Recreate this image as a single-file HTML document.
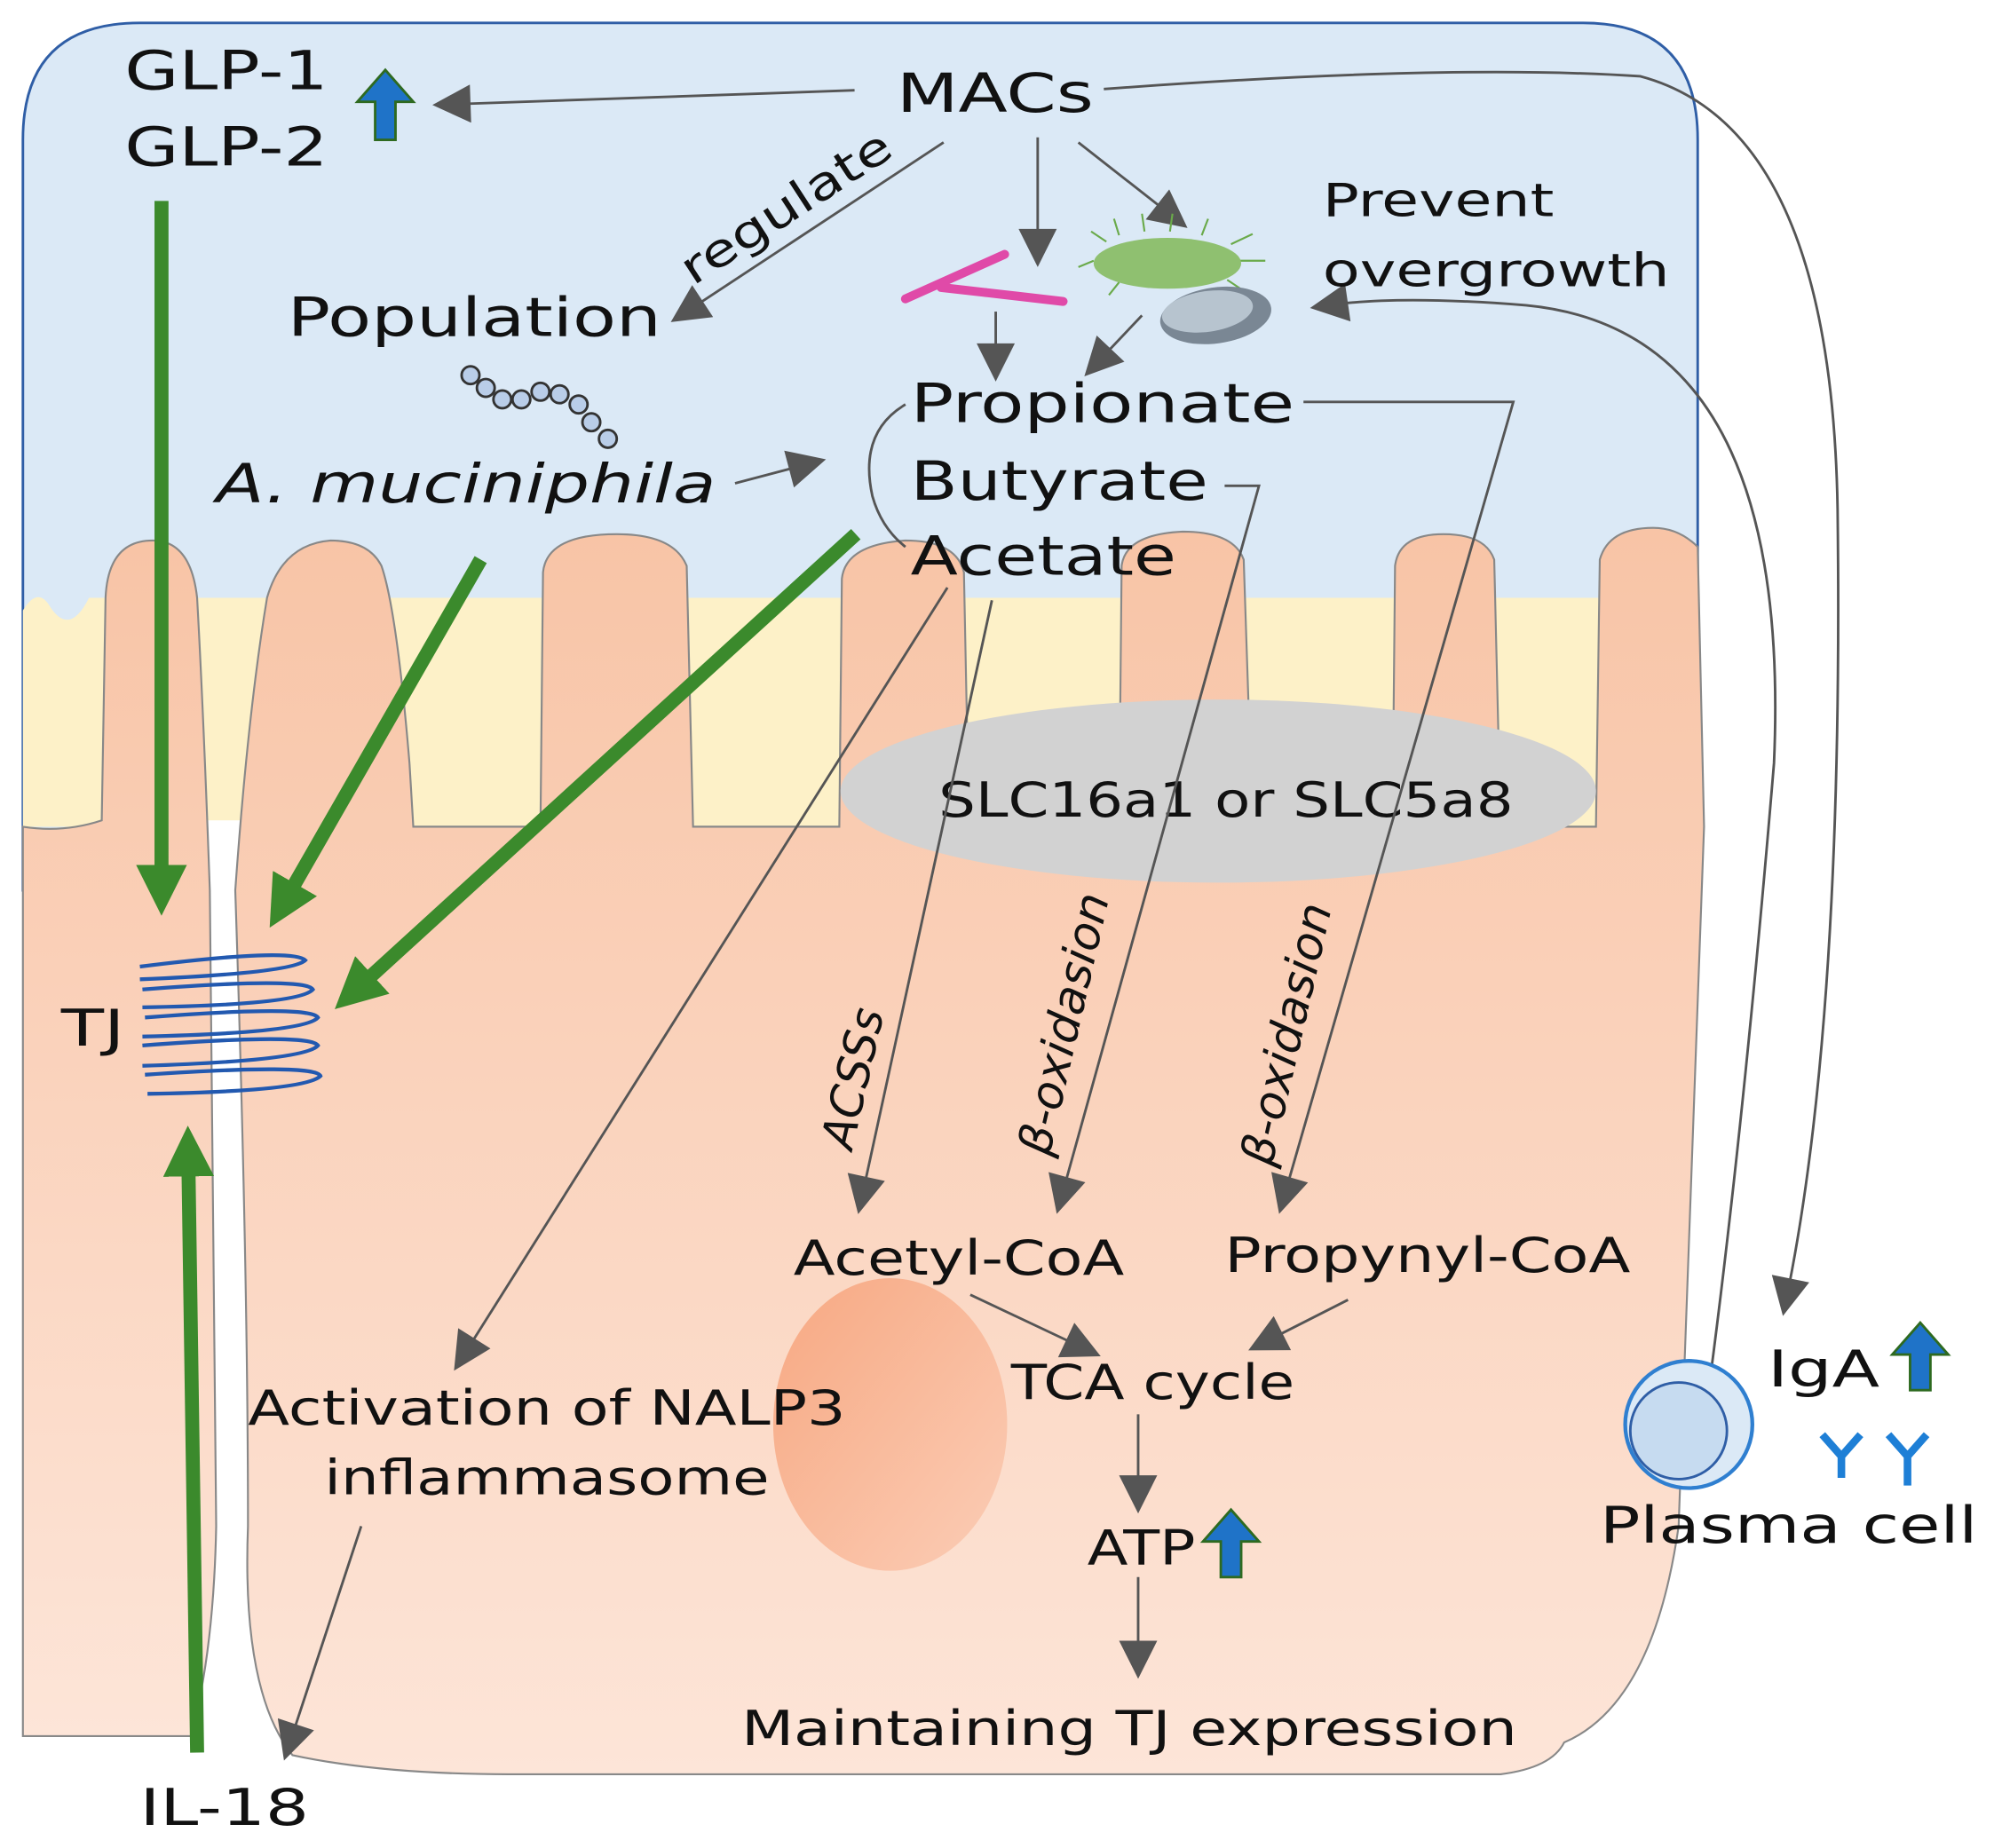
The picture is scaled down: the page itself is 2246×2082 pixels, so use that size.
<!DOCTYPE html>
<html><head><meta charset="utf-8"><style>
html,body{margin:0;padding:0;background:#fff}
svg{display:block}
text{font-family:"DejaVu Sans","Liberation Sans",sans-serif;fill:#111}
</style></head><body>
<svg width="2246" height="2082" viewBox="0 0 1568 1453" preserveAspectRatio="none" xmlns="http://www.w3.org/2000/svg">
<defs>
<marker id="g" viewBox="0 0 10 10" refX="5" refY="5" markerWidth="34" markerHeight="30" orient="auto" markerUnits="userSpaceOnUse">
<path d="M0,0 L10,5 L0,10 z" fill="#555"/></marker>
<marker id="gr" viewBox="0 0 10 10" refX="5" refY="5" markerWidth="40" markerHeight="40" orient="auto" markerUnits="userSpaceOnUse">
<path d="M0,0 L10,5 L0,10 z" fill="#3b8a2c"/></marker>
<linearGradient id="cell" x1="0" y1="0" x2="0" y2="1">
<stop offset="0" stop-color="#f8c4a6"/><stop offset="1" stop-color="#fde5d8"/></linearGradient>
<linearGradient id="mito" x1="0" y1="0" x2="1" y2="1">
<stop offset="0" stop-color="#f7a882"/><stop offset="1" stop-color="#fbcdb6"/></linearGradient>
</defs>
<path d="M18,700 L18,110 Q18,18 110,18 L1245,18 Q1335,18 1335,110 L1335,700 Z" fill="#dbe9f6" stroke="#2f5ea6" stroke-width="2"/>
<path d="M18,650 L18,480 Q30,460 40,478 Q55,500 70,470 L1330,470 L1338,650 Z" fill="#fdf1c8"/>
<rect x="160" y="645" width="30" height="60" fill="#fff"/>
<g fill="url(#cell)" stroke="#888" stroke-width="1.5">
<path d="M18,650 L18,1365 L150,1365 Q168,1300 170,1200 Q168,900 165,700 Q160,560 155,470 Q150,425 120,425 Q85,425 83,470 L80,645 Q50,655 18,650 Z"/>
<path d="M185,700 Q195,1000 195,1200 Q190,1330 230,1380 Q300,1395 400,1395 L1180,1395 Q1220,1390 1230,1370 Q1300,1340 1320,1200 L1340,650 L1335,430 Q1320,415 1300,415 Q1265,415 1258,440 L1255,650 L1180,650 L1175,440 Q1168,420 1135,420 Q1100,420 1097,445 L1095,650 L985,650 L978,440 Q970,418 930,418 Q885,420 882,445 L880,650 L762,650 L758,450 Q752,425 712,425 Q665,428 662,455 L660,650 L545,650 L540,445 Q530,420 485,420 Q430,420 427,450 L425,650 L325,650 L322,600 Q312,480 300,445 Q290,425 260,425 Q222,428 210,470 Q195,560 185,700 Z"/>
</g>
<ellipse cx="958" cy="622" rx="297" ry="72" fill="#d2d2d2"/>
<text x="738" y="642" font-size="38" textLength="452" lengthAdjust="spacingAndGlyphs">SLC16a1 or SLC5a8</text>
<ellipse cx="700" cy="1120" rx="92" ry="115" fill="url(#mito)"/>
<g fill="none" stroke="#2259b0" stroke-width="3">
<path d="M110,760 Q230,745 240,755 Q230,765 110,770 M112,778 Q240,768 246,778 Q236,790 112,792 M114,800 Q244,790 250,800 Q240,812 112,815 M112,822 Q244,812 250,822 Q240,834 112,838 M114,845 Q248,836 252,846 Q240,858 116,860"/>
</g>
<text x="48" y="822" font-size="40" textLength="50" lengthAdjust="spacingAndGlyphs">TJ</text>
<g stroke="#3b8a2c" stroke-width="11" fill="none">
<line x1="127" y1="158" x2="127" y2="700" marker-end="url(#gr)"/>
<line x1="378" y1="440" x2="222" y2="712" marker-end="url(#gr)"/>
<line x1="673" y1="420" x2="278" y2="780" marker-end="url(#gr)"/>
<line x1="155" y1="1378" x2="148" y2="905" marker-end="url(#gr)"/>
</g>
<g stroke="#555" stroke-width="2" fill="none">
<line x1="672" y1="71" x2="355" y2="82" marker-end="url(#g)"/>
<path d="M868,70 Q1140,50 1290,60 Q1440,100 1445,400 Q1450,800 1405,1020" marker-end="url(#g)"/>
<line x1="742" y1="112" x2="540" y2="245" marker-end="url(#g)"/>
<line x1="816" y1="108" x2="816" y2="195" marker-end="url(#g)"/>
<line x1="848" y1="112" x2="922" y2="170" marker-end="url(#g)"/>
<line x1="783" y1="245" x2="783" y2="285" marker-end="url(#g)"/>
<line x1="898" y1="248" x2="863" y2="285" marker-end="url(#g)"/>
<path d="M1340,1120 Q1370,900 1395,600 Q1410,260 1200,240 Q1100,232 1045,240" marker-end="url(#g)"/>
<line x1="578" y1="380" x2="635" y2="365" marker-end="url(#g)"/>
<path d="M712,318 Q675,340 686,390 Q693,415 712,430"/>
<path d="M1025,316 L1190,316 L1010,940" marker-end="url(#g)"/>
<path d="M963,382 L990,382 L835,940" marker-end="url(#g)"/>
<line x1="780" y1="472" x2="678" y2="940" marker-end="url(#g)"/>
<line x1="745" y1="462" x2="365" y2="1065" marker-end="url(#g)"/>
<line x1="763" y1="1018" x2="852" y2="1060" marker-end="url(#g)"/>
<line x1="1060" y1="1022" x2="995" y2="1055" marker-end="url(#g)"/>
<line x1="895" y1="1112" x2="895" y2="1175" marker-end="url(#g)"/>
<line x1="895" y1="1240" x2="895" y2="1305" marker-end="url(#g)"/>
<line x1="284" y1="1200" x2="228" y2="1370" marker-end="url(#g)"/>
</g>
<g stroke="#e04aa8" stroke-width="7" stroke-linecap="round" fill="none">
<line x1="712" y1="235" x2="790" y2="200"/><line x1="740" y1="226" x2="775" y2="230"/><line x1="775" y1="230" x2="836" y2="237"/>
</g>
<g stroke="#6aaa4a" stroke-width="1.5">
<path d="M860,205 L848,210 M870,190 L858,182 M880,185 L876,172 M900,182 L898,168 M920,182 L922,168 M945,185 L950,172 M968,192 L985,184 M975,205 L995,205 M965,220 L980,230 M880,222 L872,232"/>
</g>
<ellipse cx="918" cy="207" rx="58" ry="20" fill="#8fc070"/>
<ellipse cx="956" cy="248" rx="44" ry="22" fill="#7a8794" transform="rotate(-8 956 248)"/>
<ellipse cx="950" cy="244" rx="36" ry="16" fill="#b7c4cf" transform="rotate(-8 956 248)"/>
<g fill="#b9cde8" stroke="#333" stroke-width="2">
<circle cx="370" cy="295" r="7"/><circle cx="382" cy="305" r="7"/><circle cx="395" cy="314" r="7"/><circle cx="410" cy="314" r="7"/><circle cx="425" cy="308" r="7"/><circle cx="440" cy="310" r="7"/><circle cx="455" cy="318" r="7"/><circle cx="465" cy="332" r="7"/><circle cx="478" cy="345" r="7"/>
</g>
<circle cx="1328" cy="1120" r="50" fill="#dbe9f6" stroke="#2f7fd0" stroke-width="3"/>
<circle cx="1320" cy="1125" r="38" fill="#c6dbf0" stroke="#2f5ea6" stroke-width="2"/>
<g stroke="#1e7fd6" stroke-width="6" fill="none">
<path d="M1433,1128 L1448,1145 L1463,1128 M1448,1145 L1448,1162"/>
<path d="M1485,1128 L1500,1145 L1515,1128 M1500,1145 L1500,1168"/>
</g>
<g fill="#1f73c8" stroke="#2e6a20" stroke-width="2">
<path d="M295,110 L295,80 L281,80 L303,55 L325,80 L311,80 L311,110 Z"/>
<path d="M1502,1093 L1502,1065 L1488,1065 L1510,1040 L1532,1065 L1518,1065 L1518,1093 Z"/>
<path d="M960,1240 L960,1212 L946,1212 L968,1187 L990,1212 L976,1212 L976,1240 Z"/>
</g>
<g font-size="42" lengthAdjust="spacingAndGlyphs">
<text x="98" y="70" textLength="160" lengthAdjust="spacingAndGlyphs">GLP-1</text>
<text x="98" y="130" textLength="160" lengthAdjust="spacingAndGlyphs">GLP-2</text>
<text x="705" y="88" textLength="155" lengthAdjust="spacingAndGlyphs">MACs</text>
<text x="226" y="264" textLength="294" lengthAdjust="spacingAndGlyphs">Population</text>
<text x="170" y="395" font-style="italic" textLength="393" lengthAdjust="spacingAndGlyphs">A. muciniphila</text>
<text x="716" y="332" textLength="302" lengthAdjust="spacingAndGlyphs">Propionate</text>
<text x="716" y="393" textLength="234" lengthAdjust="spacingAndGlyphs">Butyrate</text>
<text x="716" y="452" textLength="209" lengthAdjust="spacingAndGlyphs">Acetate</text>
<text x="963" y="1000" font-size="38" textLength="319" lengthAdjust="spacingAndGlyphs">Propynyl-CoA</text>
<text x="624" y="1002" font-size="38" textLength="260" lengthAdjust="spacingAndGlyphs">Acetyl-CoA</text>
<text x="795" y="1100" font-size="38" textLength="223" lengthAdjust="spacingAndGlyphs">TCA cycle</text>
<text x="855" y="1230" font-size="38" textLength="85" lengthAdjust="spacingAndGlyphs">ATP</text>
<text x="583" y="1372" font-size="38" textLength="610" lengthAdjust="spacingAndGlyphs">Maintaining TJ expression</text>
<text x="195" y="1120" font-size="38" textLength="470" lengthAdjust="spacingAndGlyphs">Activation of NALP3</text>
<text x="255" y="1175" font-size="38" textLength="350" lengthAdjust="spacingAndGlyphs">inflammasome</text>
<text x="1390" y="1090" font-size="40" textLength="88" lengthAdjust="spacingAndGlyphs">IgA</text>
<text x="1258" y="1213" font-size="40" textLength="297" lengthAdjust="spacingAndGlyphs">Plasma cell</text>
<text x="110" y="1435" font-size="40" textLength="133" lengthAdjust="spacingAndGlyphs">IL-18</text>
</g>
<g font-size="36">
<text x="1040" y="170" textLength="182" lengthAdjust="spacingAndGlyphs">Prevent</text>
<text x="1040" y="225" textLength="273" lengthAdjust="spacingAndGlyphs">overgrowth</text>
<text x="0" y="0" transform="translate(545,225) rotate(-33)" textLength="190" lengthAdjust="spacingAndGlyphs">regulate</text>
<text x="0" y="0" font-style="italic" transform="translate(670,905) rotate(-77)" textLength="112" lengthAdjust="spacingAndGlyphs">ACSSs</text>
<text x="0" y="0" font-style="italic" transform="translate(825,910) rotate(-77)" textLength="210" lengthAdjust="spacingAndGlyphs">β-oxidasion</text>
<text x="0" y="0" font-style="italic" transform="translate(1000,918) rotate(-77)" textLength="210" lengthAdjust="spacingAndGlyphs">β-oxidasion</text>
</g>
</svg>
</body></html>
